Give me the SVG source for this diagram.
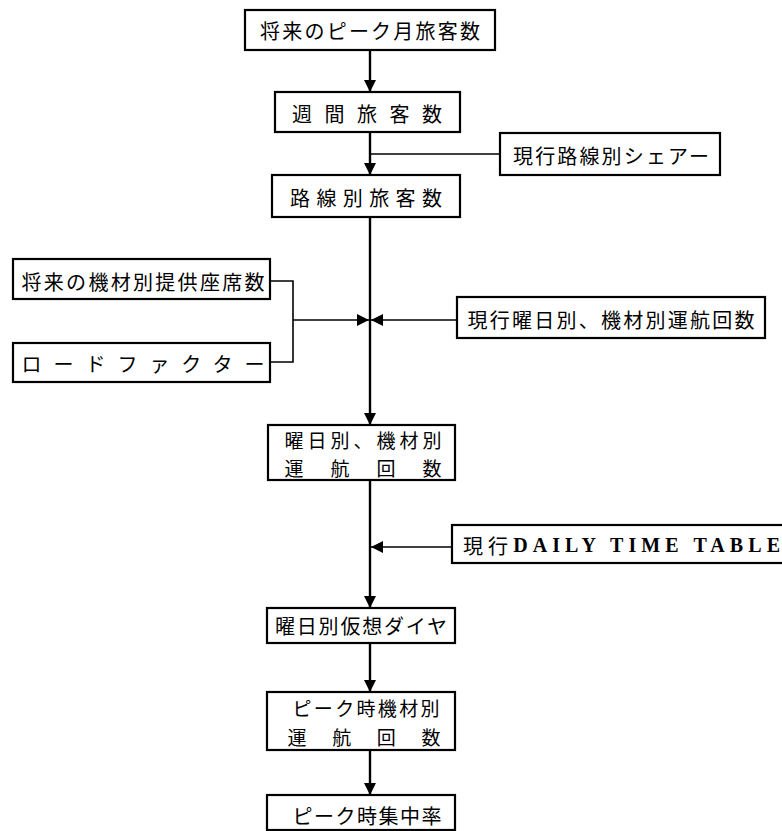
<svg xmlns="http://www.w3.org/2000/svg" width="782" height="831" viewBox="0 0 782 831">
<style>
.box{fill:#fff;stroke:#000;stroke-width:2.2}
.t{font-family:"Noto Sans CJK JP","Noto Sans CJK SC",sans-serif;font-size:20px;fill:#000;dominant-baseline:central}
.t2{font-size:19px}
.ser{font-family:"Liberation Serif","Noto Sans CJK JP",serif;font-weight:bold}
.main{stroke:#000;stroke-width:2.4;fill:none}
.side{stroke:#000;stroke-width:1.6;fill:none}
</style>
<defs>
<marker id="ah" markerUnits="userSpaceOnUse" markerWidth="14" markerHeight="14" refX="12" refY="6" orient="auto">
<path d="M0,0 L12,6 L0,12 Z" fill="#000"/>
</marker>
</defs>
<g id="connectors">
<line class="main" x1="370" y1="50" x2="370" y2="92" marker-end="url(#ah)"/>
<line class="main" x1="370" y1="132" x2="370" y2="175" marker-end="url(#ah)"/>
<line class="side" x1="502" y1="154" x2="370" y2="154"/>
<line class="main" x1="370" y1="217" x2="370" y2="425" marker-end="url(#ah)"/>
<polyline class="side" points="270,281 293,281 293,362 270,362"/>
<line class="side" x1="293" y1="320" x2="369" y2="320" marker-end="url(#ah)"/>
<line class="side" x1="457" y1="320" x2="371" y2="320" marker-end="url(#ah)"/>
<line class="main" x1="370" y1="480" x2="370" y2="608" marker-end="url(#ah)"/>
<line class="side" x1="452" y1="547" x2="371" y2="547" marker-end="url(#ah)"/>
<line class="main" x1="370" y1="643" x2="370" y2="692" marker-end="url(#ah)"/>
<line class="main" x1="370" y1="750" x2="370" y2="795" marker-end="url(#ah)"/>
</g>
<g id="n1">
<rect class="box" x="245" y="10" width="250" height="40"/>
<text class="t" x="370" y="30" text-anchor="middle" textLength="220" lengthAdjust="spacing">将来のピーク月旅客数</text>
</g>
<g id="n2">
<rect class="box" x="275" y="92" width="185" height="40"/>
<text class="t" x="367" y="113" text-anchor="middle" textLength="150" lengthAdjust="spacing">週間旅客数</text>
</g>
<g id="n3">
<rect class="box" x="500" y="133" width="220" height="42"/>
<text class="t" x="611" y="155" text-anchor="middle" textLength="196" lengthAdjust="spacing">現行路線別シェアー</text>
</g>
<g id="n4">
<rect class="box" x="272" y="175" width="188" height="42"/>
<text class="t" x="366" y="197" text-anchor="middle" textLength="152" lengthAdjust="spacing">路線別旅客数</text>
</g>
<g id="n5">
<rect class="box" x="13" y="259" width="257" height="40"/>
<text class="t" x="143" y="281" text-anchor="middle" textLength="243" lengthAdjust="spacing">将来の機材別提供座席数</text>
</g>
<g id="n6">
<rect class="box" x="13" y="343" width="257" height="39"/>
<text class="t" x="143" y="363" text-anchor="middle" textLength="243" lengthAdjust="spacing">ロードファクター</text>
</g>
<g id="n7">
<rect class="box" x="457" y="297" width="308" height="41"/>
<text class="t" x="611" y="319" text-anchor="middle" textLength="287" lengthAdjust="spacing">現行曜日別、機材別運航回数</text>
</g>
<g id="n8">
<rect class="box" x="268" y="425" width="187" height="55"/>
<text class="t t2" x="363" y="439" text-anchor="middle" textLength="157" lengthAdjust="spacing">曜日別、機材別</text>
<text class="t t2" x="363" y="467" text-anchor="middle" textLength="157" lengthAdjust="spacing">運航回数</text>
</g>
<g id="n9">
<rect class="box" x="452" y="525" width="340" height="38"/>
<text class="t" x="463" y="545" textLength="317" lengthAdjust="spacing">現行<tspan class="ser">DAILY TIME TABLE</tspan></text>
</g>
<g id="n10">
<rect class="box" x="267" y="608" width="188" height="35"/>
<text class="t" x="361" y="625" text-anchor="middle" textLength="172" lengthAdjust="spacing">曜日別仮想ダイヤ</text>
</g>
<g id="n11">
<rect class="box" x="267" y="692" width="188" height="58"/>
<text class="t t2" x="366" y="707" text-anchor="middle" textLength="147" lengthAdjust="spacing">ピーク時機材別</text>
<text class="t t2" x="364" y="736" text-anchor="middle" textLength="153" lengthAdjust="spacing">運航回数</text>
</g>
<g id="n12">
<rect class="box" x="267" y="795" width="188" height="35"/>
<text class="t" x="367" y="815" text-anchor="middle" textLength="149" lengthAdjust="spacing">ピーク時集中率</text>
</g>
</svg>
